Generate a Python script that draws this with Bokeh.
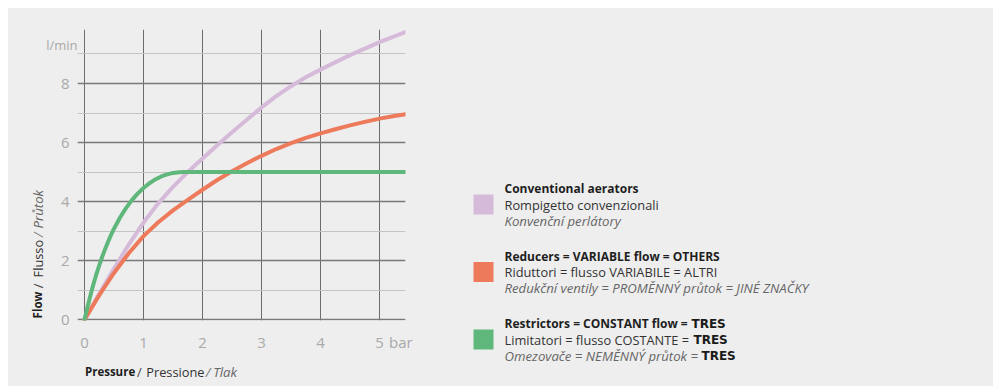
from bokeh.plotting import figure
from bokeh.models import Range1d, FixedTicker, ColumnDataSource, Spacer
from bokeh.layouts import row, column
from bokeh.embed import file_html
from bokeh.resources import INLINE
from bokeh.core.properties import value
import math

# ---------------- data ----------------
pressure = [0, 0.25, 0.5, 0.75, 1.0, 1.25, 1.5, 1.75, 2.0, 2.25, 2.5, 2.75, 3.0,
            3.25, 3.5, 3.75, 4.0, 4.25, 4.5, 4.75, 5.0, 5.25, 5.44]
conventional = [0, 0.88, 1.73, 2.54, 3.29, 3.94, 4.5, 5.0, 5.46, 5.91, 6.35, 6.77, 7.19,
                 7.57, 7.91, 8.21, 8.47, 8.72, 8.96, 9.18, 9.4, 9.6, 9.74]
reducers = [0, 0.83, 1.58, 2.25, 2.83, 3.3, 3.7, 4.06, 4.4, 4.73, 5.03, 5.3, 5.55,
            5.78, 5.98, 6.16, 6.31, 6.45, 6.58, 6.7, 6.81, 6.9, 6.96]
pressure_r = [0, 0.05, 0.1, 0.15, 0.2, 0.25, 0.3, 0.35, 0.4, 0.45, 0.5, 0.6, 0.7, 0.8,
              0.9, 1.0, 1.1, 1.2, 1.3, 1.4, 1.5, 1.6, 1.7, 3.0, 5.44]
restrictors = [0, 0.42, 0.82, 1.19, 1.53, 1.84, 2.13, 2.39, 2.64, 2.87, 3.08, 3.45, 3.77, 4.04,
               4.27, 4.46, 4.62, 4.75, 4.85, 4.92, 4.97, 4.99, 5.0, 5.0, 5.0]

x_ticks = [0, 1, 2, 3, 4, 5]
x_unit_pos = 5.36
x_unit = "bar"
y_ticks = [0, 2, 4, 6, 8]
y_minor = [1, 3, 5, 7, 9]
y_unit_pos = 9.32
y_unit = "l/min"

x_title = ["Pressure", "/", "Pressione", "/", "Tlak"]
y_title = ["Flow", "/", "Flusso", "/", "Průtok"]

colors = ["#d6bad9", "#ec7a5b", "#60b77c"]
legend_bold = ["Conventional aerators",
               "Reducers = VARIABLE flow = OTHERS",
               "Restrictors = CONSTANT flow = "]
legend_regular = ["Rompigetto convenzionali",
                  "Riduttori = flusso VARIABILE = ALTRI",
                  "Limitatori = flusso COSTANTE = "]
legend_italic = ["Konvenční perlátory",
                 "Redukční ventily = PROMĚNNÝ průtok = JINÉ ZNAČKY",
                 "Omezovače = NEMĚNNÝ průtok = "]
brand = "TRES"

BG = "#eeeeee"
FONT = "Open Sans"
TICK_C = "#a9a9a9"
STYLES = ["bold", "normal", "italic"]
SIZES = ["12px", "12.8px", "13.2px"]
TITLE_SIZES = ["11.5px", "12.8px", "13.2px"]
TCOLS = ["#1e1e1e", "#333333", "#666666"]
# style index for each piece of the two axis titles
T_STYLE = [0, 1, 1, 2, 2]
T_COL = ["#1e1e1e", "#444444", "#333333", "#777777", "#666666"]

# ---------------- geometry ----------------
H = 378            # total height of the grey block
Y0, Y1 = -0.03, 9.83
TOP, BOT = 21, 35  # chart borders
CH = 347           # chart figure height
FH = CH - TOP - BOT
ppu = FH / (Y1 - Y0)
yl_top = Y1 + TOP / ppu
yl_bot = Y0 - (H - CH + BOT) / ppu

# ---------------- y side panel (tick labels + title) ----------------
yl = figure(width=69, height=H, output_backend="svg", toolbar_location=None,
            x_range=Range1d(0, 69), y_range=Range1d(yl_bot, yl_top),
            x_axis_location=None, y_axis_location=None,
            min_border_left=0, min_border_right=0, min_border_top=0, min_border_bottom=0)
yl.background_fill_color = BG
yl.border_fill_color = BG
yl.outline_line_color = None
yl.grid.visible = False
yl.text(x=[61] * len(y_ticks), y=y_ticks, text=[str(t) for t in y_ticks],
        text_font=value(FONT), text_font_size="15px", text_color=TICK_C,
        text_align="right", text_baseline="middle")
yl.text(x=[69], y=[y_unit_pos], text=[y_unit], text_font=value(FONT), text_font_size="13px",
        text_color=TICK_C, text_align="right", text_baseline="middle")
y_title_pos = [0.04, 1.06, 1.43, 2.79, 3.09]
for t, yy, si, c in zip(y_title, y_title_pos, T_STYLE, T_COL):
    yl.text(x=[29], y=[yy], text=[t], angle=math.pi / 2, text_font=value(FONT),
            text_font_size=TITLE_SIZES[si], text_font_style=STYLES[si], text_color=c,
            text_align="left", text_baseline="middle")

# ---------------- chart ----------------
p = figure(width=353, height=CH, output_backend="svg", toolbar_location=None,
           x_range=Range1d(-0.1186, 5.44), y_range=Range1d(Y0, Y1),
           y_axis_location=None,
           min_border_left=0, min_border_right=25, min_border_top=TOP, min_border_bottom=BOT)
p.background_fill_color = BG
p.border_fill_color = BG
p.outline_line_color = None

p.xaxis.ticker = FixedTicker(ticks=x_ticks + [x_unit_pos])
p.xaxis.major_label_overrides = {x_unit_pos: x_unit}
p.xaxis.axis_line_color = None
p.xaxis.major_tick_line_color = None
p.xaxis.minor_tick_line_color = None
p.xaxis.major_label_text_color = TICK_C
p.xaxis.major_label_text_font = FONT
p.xaxis.major_label_text_font_size = "15px"
p.xaxis.major_label_standoff = 5

p.xgrid.ticker = FixedTicker(ticks=x_ticks)
p.xgrid.grid_line_color = "#6c6c6c"
p.xgrid.grid_line_width = 1
p.ygrid.ticker = FixedTicker(ticks=y_ticks, minor_ticks=y_minor)
p.ygrid.grid_line_color = "#7a7a7a"
p.ygrid.grid_line_width = 1.5
p.ygrid.minor_grid_line_color = "#c4c4c4"
p.ygrid.minor_grid_line_width = 1

p.line(pressure, conventional, line_color=colors[0], line_width=4, line_cap="round", line_join="round")
p.line(pressure, reducers, line_color=colors[1], line_width=4, line_cap="round", line_join="round")
p.line(pressure_r, restrictors, line_color=colors[2], line_width=4, line_cap="round", line_join="round")

# ---------------- x title panel ----------------
XH = H - CH
xt = figure(width=353, height=XH, output_backend="svg", toolbar_location=None,
            x_range=Range1d(0, 353), y_range=Range1d(XH, 0),
            x_axis_location=None, y_axis_location=None,
            min_border_left=0, min_border_right=0, min_border_top=0, min_border_bottom=0)
xt.background_fill_color = BG
xt.border_fill_color = BG
xt.outline_line_color = None
xt.grid.visible = False
x_title_pos = [8, 64, 74, 138, 146]
for t, xx, si, c in zip(x_title, x_title_pos, T_STYLE, T_COL):
    xt.text(x=[xx], y=[16], text=[t], text_font=value(FONT), text_font_size=TITLE_SIZES[si],
            text_font_style=STYLES[si], text_color=c, text_align="left", text_baseline="middle")

# ---------------- legend panel ----------------
LW = 563
L = figure(width=LW, height=H, output_backend="svg", toolbar_location=None,
           x_range=Range1d(0, LW), y_range=Range1d(H, 0),
           x_axis_location=None, y_axis_location=None,
           min_border_left=0, min_border_right=0, min_border_top=0, min_border_bottom=0)
L.background_fill_color = BG
L.border_fill_color = BG
L.outline_line_color = None
L.grid.visible = False

n = len(colors)
cy = [196 + 67.5 * i for i in range(n)]
L.rect(x=[53] * n, y=cy, width=20, height=20, fill_color=colors, line_color=None)

for k, (texts, st, sz, c) in enumerate(zip([legend_bold, legend_regular, legend_italic],
                                           STYLES, SIZES, TCOLS)):
    src = ColumnDataSource(dict(x=[74] * n, y=[v + 16 * (k - 1) for v in cy], t=texts))
    L.text(x="x", y="y", text="t", source=src, text_font=value(FONT), text_font_size=sz,
           text_font_style=st, text_color=c, text_baseline="middle")

last = cy[-1]
L.text(x=[261, 263, 271], y=[last - 16, last, last + 16], text=[brand] * 3,
       text_font=value("DejaVu Sans"), text_font_size="12px", text_font_style="bold",
       text_color="#1a1a1a", text_baseline="middle")

main = row(yl, column(p, xt, spacing=0), L, spacing=0, styles={"background-color": BG})
page = column(Spacer(height=8), row(Spacer(width=8), main, spacing=0), spacing=0)
open("out.html", "w").write(file_html(page, INLINE))
